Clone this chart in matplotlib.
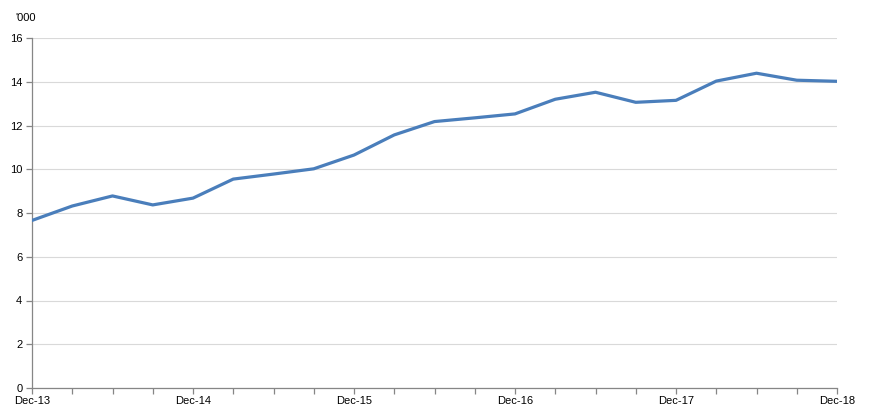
import numpy as np
import matplotlib.pyplot as plt

plt.rcParams['font.family'] = ['Liberation Sans', 'DejaVu Sans']

# quarterly values, '000
trimestres = ['Dec-13', 'Mar-14', 'Jun-14', 'Sep-14', 'Dec-14', 'Mar-15', 'Jun-15',
              'Sep-15', 'Dec-15', 'Mar-16', 'Jun-16', 'Sep-16', 'Dec-16', 'Mar-17',
              'Jun-17', 'Sep-17', 'Dec-17', 'Mar-18', 'Jun-18', 'Sep-18', 'Dec-18']
valores = [7.66, 8.32, 8.78, 8.37, 8.68, 9.55, 9.78, 10.02, 10.65, 11.57, 12.18,
           12.35, 12.53, 13.2, 13.52, 13.06, 13.15, 14.03, 14.39, 14.07, 14.02]
yticks = [0, 2, 4, 6, 8, 10, 12, 14, 16]

fig = plt.figure(figsize=(8.69, 4.16), dpi=100)
ax = fig.add_axes([32/869, 1-388/416, 805/869, 350/416])

x = np.arange(len(valores))
ax.plot(x, valores, color='#4a7ebb', lw=2.3, solid_joinstyle='round', zorder=3)

ax.set_xlim(0, len(valores)-1)
ax.set_ylim(0, 16)
ax.set_yticks(yticks)
ax.set_xticks(x)
ax.set_xticklabels([t if t.startswith('Dec') else '' for t in trimestres])

ax.grid(axis='y', color='#d9d9d9', lw=0.8)
ax.set_axisbelow(True)
for s in ['top', 'right']:
    ax.spines[s].set_visible(False)
for s in ['left', 'bottom']:
    ax.spines[s].set_color('#868686')
    ax.spines[s].set_linewidth(0.9)
ax.tick_params(axis='both', colors='#868686', length=4, width=0.9, labelcolor='black', labelsize=8)
ax.tick_params(axis='x', pad=2)
ax.tick_params(axis='y', pad=3)

fig.text(15/869, 1-18/416, "'000", fontsize=8, va='center', ha='left')

plt.savefig('out.png', dpi=100)
